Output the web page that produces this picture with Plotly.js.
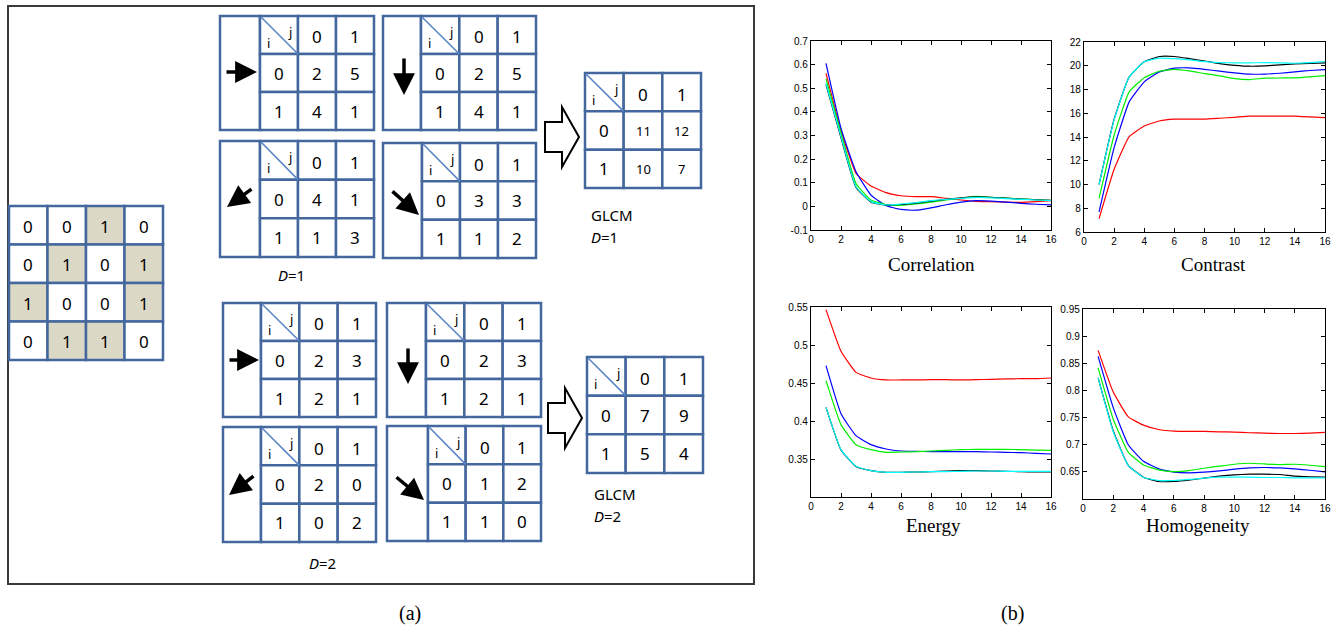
<!DOCTYPE html>
<html><head><meta charset="utf-8">
<script src="https://cdn.plot.ly/plotly-3.0.1.min.js"></script>
<style>html,body{margin:0;padding:0;background:#fff}#chart{width:1336px;height:631px}</style>
</head><body><div id="chart"></div>
<script>
// ---------- data ----------
const inputMatrix = [[0,0,1,0],[0,1,0,1],[1,0,0,1],[0,1,1,0]];
const levels = ['0','1'];
const d1Right = [[2,5],[4,1]];
const d1Down = [[2,5],[4,1]];
const d1DownLeft = [[4,1],[1,3]];
const d1DownRight = [[3,3],[1,2]];
const d2Right = [[2,3],[2,1]];
const d2Down = [[2,3],[2,1]];
const d2DownLeft = [[2,0],[0,2]];
const d2DownRight = [[1,2],[1,0]];
const glcmD1 = [[11,12],[10,7]];
const glcmD2 = [[7,9],[5,4]];

const steps = [1,2,3,4,5,6,7,8,9,10,11,12,13,14,15,16];
const corrRed   = [0.563,0.32,0.14,0.086,0.058,0.045,0.041,0.041,0.034,0.027,0.021,0.02,0.018,0.017,0.02,0.024];
const corrBlue  = [0.605,0.33,0.147,0.048,0.003,-0.013,-0.016,-0.006,0.007,0.018,0.024,0.022,0.018,0.013,0.009,0.006];
const corrGreen = [0.54,0.31,0.097,0.027,0.007,0.004,0.01,0.018,0.027,0.035,0.042,0.038,0.035,0.031,0.028,0.025];
const corrBlack = [0.515,0.29,0.08,0.018,0.005,0.008,0.014,0.022,0.03,0.036,0.04,0.038,0.035,0.031,0.028,0.026];
const corrCyan  = [0.52,0.295,0.083,0.02,0.006,0.01,0.016,0.024,0.03,0.034,0.038,0.036,0.033,0.03,0.027,0.024];

const conRed   = [7.12,11.28,14.03,14.93,15.35,15.5,15.5,15.5,15.58,15.66,15.75,15.75,15.75,15.75,15.69,15.63];
const conBlue  = [7.69,13.1,16.96,18.64,19.48,19.8,19.82,19.7,19.54,19.4,19.29,19.3,19.37,19.48,19.6,19.68];
const conGreen = [8.84,14.15,17.8,19.0,19.54,19.7,19.57,19.34,19.15,18.92,18.84,18.95,18.97,18.98,19.06,19.17];
const conBlack = [10.0,15.5,19.06,20.33,20.78,20.78,20.6,20.4,20.18,20.04,19.96,19.99,20.07,20.16,20.2,20.24];
const conCyan  = [10.0,15.44,19.06,20.33,20.64,20.6,20.5,20.35,20.27,20.24,20.24,20.27,20.24,20.21,20.27,20.35];

const enRed   = [0.5465,0.4917,0.464,0.4566,0.454,0.454,0.454,0.4544,0.4544,0.454,0.4544,0.4548,0.4553,0.4557,0.4557,0.4566];
const enBlue  = [0.4728,0.4096,0.3807,0.3689,0.3632,0.3605,0.3601,0.3596,0.3596,0.3596,0.3596,0.3592,0.3588,0.3583,0.3575,0.3566];
const enGreen = [0.4531,0.3952,0.3689,0.3623,0.3588,0.3592,0.3596,0.3605,0.3614,0.3623,0.3627,0.3627,0.3627,0.3623,0.3618,0.3614];
const enBlack = [0.418,0.3618,0.340,0.3346,0.3325,0.3325,0.3329,0.3333,0.3342,0.3346,0.3346,0.3342,0.3338,0.3333,0.3329,0.3329];
const enCyan  = [0.418,0.3623,0.3404,0.3346,0.3325,0.3325,0.3329,0.3333,0.3333,0.3338,0.3342,0.3342,0.3338,0.3338,0.3338,0.3338];

const hoRed   = [0.8738,0.797,0.7512,0.736,0.728,0.725,0.7244,0.7244,0.7238,0.7232,0.722,0.7213,0.7207,0.7207,0.7213,0.7226];
const hoBlue  = [0.8628,0.7683,0.6994,0.6695,0.6555,0.6494,0.6482,0.6494,0.6518,0.6549,0.6573,0.658,0.6573,0.6555,0.653,0.65];
const hoGreen = [0.8415,0.747,0.686,0.6628,0.6537,0.6506,0.6524,0.6567,0.6604,0.664,0.6659,0.6646,0.6634,0.664,0.6622,0.6598];
const hoBlack = [0.8232,0.7256,0.6616,0.6402,0.6323,0.6323,0.6347,0.6384,0.642,0.6445,0.6457,0.6457,0.6451,0.642,0.6409,0.6402];
const hoCyan  = [0.8232,0.7238,0.6616,0.6396,0.6341,0.6341,0.636,0.6384,0.6402,0.6402,0.6402,0.6396,0.6396,0.639,0.639,0.639];

const corrTicks = [-0.1,0,0.1,0.2,0.3,0.4,0.5,0.6,0.7];
const corrTickText = ['-0.1','0','0.1','0.2','0.3','0.4','0.5','0.6','0.7'];
const enTicks = [0.35,0.4,0.45,0.5,0.55];
const hoTicks = [0.65,0.7,0.75,0.8,0.85,0.9,0.95];
const chartTitles = ['Correlation','Contrast','Energy','Homogeneity'];
const panelLabels = ['(a)','(b)'];

// ---------- layout helpers ----------
const W = 1336, H = 631;
const dx = (a,b) => [a/W, b/W];
const dy = (top,bottom) => [1-bottom/H, 1-top/H];
const GRID = '#44689e', DIAG = '#5a86c6', SHADE = '#dcd8c6';
const NUMFONT = 'Noto Sans';
const shapes = [], annotations = [];
const P = {xref:'x5', yref:'y5'};

function rect(x0,y0,x1,y1,fill,color,width){
  shapes.push(Object.assign({type:'rect',x0,y0,x1,y1,fillcolor:fill,line:{color:color,width:width}},P));
}
function txt(x,y,t,size,opts){
  annotations.push(Object.assign({x,y,text:t,showarrow:false,xanchor:'center',yanchor:'middle',
    font:{family:NUMFONT,size:size,color:'#000'}},P,opts||{}));
}
function arrow(tx,ty,ax,ay){
  annotations.push(Object.assign({x:tx,y:ty,ax:ax,ay:ay,axref:'x5',ayref:'y5',text:'',showarrow:true,
    arrowhead:2,arrowsize:1.25,arrowwidth:3.5,arrowcolor:'#000',standoff:0,startstandoff:0},P));
}
function table(x0,x1,y0,y1,matrix,bodySize){
  const cw=(x1-x0)/3, rh=(y1-y0)/3;
  for(let r=0;r<3;r++) for(let c=0;c<3;c++)
    rect(x0+c*cw,y0+r*rh,x0+(c+1)*cw,y0+(r+1)*rh,'#fff',GRID,2.5);
  shapes.push(Object.assign({type:'line',x0:x0+1,y0:y0+1,x1:x0+cw,y1:y0+rh,line:{color:DIAG,width:1.6}},P));
  txt(x0+8,y0+rh*0.7,'i',13);
  txt(x0+cw-8,y0+rh*0.42,'j',13);
  levels.forEach((l,k)=>{
    txt(x0+(k+1.5)*cw,y0+rh*0.55,l,17);
    txt(x0+cw*0.5,y0+(k+1.5)*rh,l,17);
  });
  matrix.forEach((row,r)=>row.forEach((v,c)=>{
    txt(x0+(c+1.5)*cw,y0+(r+1.5)*rh,String(v),bodySize);
  }));
}
function group(bx,x0,x1,y0,y1,matrix){
  rect(bx,y0,x0,y1,'#fff',GRID,2.5);
  table(x0,x1,y0,y1,matrix,17);
}
function hollowArrow(x0,yc,len,headLen,shaftHalf,headHalf){
  const xs=x0+len-headLen, xt=x0+len;
  const p=`M${x0},${yc-shaftHalf} L${xs},${yc-shaftHalf} L${xs},${yc-headHalf} L${xt},${yc} L${xs},${yc+headHalf} L${xs},${yc+shaftHalf} L${x0},${yc+shaftHalf} Z`;
  shapes.push(Object.assign({type:'path',path:p,fillcolor:'#fff',line:{color:'#000',width:2}},P));
}

// outer box of panel (a)
rect(8,6,754,584,'rgba(0,0,0,0)','#3a3a3a',2);

// input matrix
const cs = 38.5;
inputMatrix.forEach((row,r)=>row.forEach((v,c)=>{
  rect(9+c*cs,206+r*cs,9+(c+1)*cs,206+(r+1)*cs,v?SHADE:'#fff',GRID,2.5);
}));
inputMatrix.forEach((row,r)=>row.forEach((v,c)=>{
  txt(9+(c+0.5)*cs,206+(r+0.5)*cs+1,String(v),17);
}));

// D=1 groups
group(220,260,374,16,130,d1Right);
group(383,421,536,16,130,d1Down);
group(220,260,374,141,257,d1DownLeft);
group(383,422,536,143,258,d1DownRight);
arrow(257,72,225,72);
arrow(404,95,404,57);
arrow(227,207,253,188);
arrow(419,215,391,190);
// D=2 groups
group(223,261,376,303,417,d2Right);
group(387,426,541,303,417,d2Down);
group(223,261,376,427,542,d2DownLeft);
group(387,428,541,426,541,d2DownRight);
arrow(259,360,228,360);
arrow(408,384,408,347);
arrow(229,495,255,475);
arrow(424,500,395,476);

// GLCM tables
hollowArrow(545,137,34,17,15,30);
table(585,701,73,188,glcmD1,13);
hollowArrow(548,418,34,17,15,30);
table(587,703,357,473,glcmD2,17);

// labels in panel (a)
txt(291,275,'<i>D</i>=1',15);
txt(322,563,'<i>D</i>=2',15);
txt(589,215,'GLCM',15,{xanchor:'left'});
txt(589,237,'<i>D</i>=1',15,{xanchor:'left'});
txt(592,494,'GLCM',15,{xanchor:'left'});
txt(592,516,'<i>D</i>=2',15,{xanchor:'left'});

// chart titles and panel labels
const SERIF = 'Liberation Serif';
[[931,264],[1213,264],[933,525],[1198,525]].forEach((p,k)=>{
  txt(p[0],p[1],chartTitles[k],19,{font:{family:SERIF,size:19,color:'#000'}});
});
txt(410,613,panelLabels[0],20,{font:{family:SERIF,size:20,color:'#000'}});
txt(1012,613,panelLabels[1],20,{font:{family:SERIF,size:20,color:'#000'}});

// ---------- charts ----------
const colors = ['#ff0000','#0000ff','#00ee00','#000000','#00ffff'];
const sets = [
  [corrRed,corrBlue,corrGreen,corrBlack,corrCyan],
  [conRed,conBlue,conGreen,conBlack,conCyan],
  [enRed,enBlue,enGreen,enBlack,enCyan],
  [hoRed,hoBlue,hoGreen,hoBlack,hoCyan]
];
const traces = [];
sets.forEach((s,k)=>{
  s.forEach((ys,j)=>{
    traces.push({x:steps,y:ys,type:'scatter',mode:'lines',xaxis:'x'+(k+1),yaxis:'y'+(k+1),
      line:{color:colors[j],width:1.2,shape:'spline',smoothing:0.4},showlegend:false,hoverinfo:'skip'});
  });
});
traces.push({x:[],y:[],type:'scatter',xaxis:'x5',yaxis:'y5',showlegend:false,hoverinfo:'skip'});

function axis(domain,range,anchor,extra){
  return Object.assign({domain,range,anchor,autorange:false,showline:true,linecolor:'#000',linewidth:1.2,
    mirror:'ticks',ticks:'inside',ticklen:4,tickwidth:1,tickcolor:'#000',showgrid:false,zeroline:false,
    tickfont:{family:'Liberation Sans',size:10,color:'#000'},fixedrange:true},extra||{});
}
const xt = {tickmode:'linear',tick0:0,dtick:2};
const layout = {
  width:W,height:H,margin:{l:0,r:0,t:0,b:0},paper_bgcolor:'#fff',plot_bgcolor:'rgba(0,0,0,0)',showlegend:false,
  xaxis:axis(dx(811,1051),[0,16],'y',xt),
  yaxis:axis(dy(41,230),[-0.1,0.7],'x',{tickmode:'array',tickvals:corrTicks,ticktext:corrTickText}),
  xaxis2:axis(dx(1084,1325),[0,16],'y2',xt),
  yaxis2:axis(dy(42,232),[6,22],'x2',{tickmode:'linear',tick0:6,dtick:2}),
  xaxis3:axis(dx(811,1051),[0,16],'y3',xt),
  yaxis3:axis(dy(307,497),[0.3,0.55],'x3',{tickmode:'array',tickvals:enTicks}),
  xaxis4:axis(dx(1083,1325),[0,16],'y4',xt),
  yaxis4:axis(dy(309,499),[0.6,0.95],'x4',{tickmode:'array',tickvals:hoTicks}),
  xaxis5:{domain:[0,1],range:[0,W],visible:false,anchor:'y5',fixedrange:true,autorange:false},
  yaxis5:{domain:[0,1],range:[H,0],visible:false,anchor:'x5',fixedrange:true,autorange:false},
  shapes:shapes,annotations:annotations
};
Plotly.newPlot('chart',traces,layout,{staticPlot:true,displayModeBar:false});
</script></body></html>
